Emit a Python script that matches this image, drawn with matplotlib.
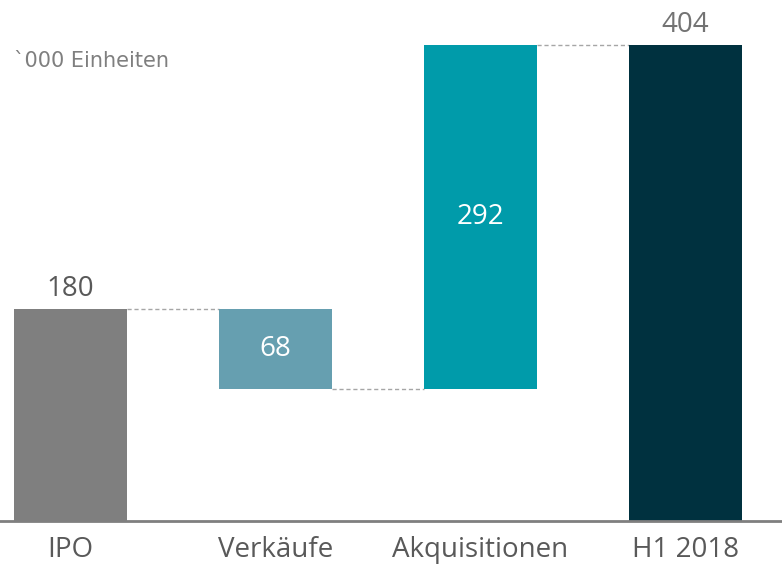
import matplotlib
matplotlib.use("Agg")
import matplotlib.pyplot as plt

categories = ["IPO", "Verkäufe", "Akquisitionen", "H1 2018"]
changes = [180, -68, 292, 404]
kinds = ["total", "delta", "delta", "total"]
colors = ["#7f7f7f", "#669fb0", "#009baa", "#00313f"]
unit_label = "`000 Einheiten"

# waterfall: work out bottom/top of every bar
bottoms, tops = [], []
level = 0
for val, kind in zip(changes, kinds):
    if kind == "total":
        bottoms.append(0)
        tops.append(val)
        level = val
    else:
        new = level + val
        bottoms.append(min(level, new))
        tops.append(max(level, new))
        level = new

fig = plt.figure(figsize=(7.82, 5.66), dpi=100)
ax = fig.add_axes([0, 0.0795, 1, 0.9205])
width = 0.55
x = list(range(len(categories)))
heights = [t - b for t, b in zip(tops, bottoms)]
ax.bar(x, heights, bottom=bottoms, width=width, color=colors, zorder=2)

# dashed connectors between neighbouring bars
level = 0
for i, (val, kind) in enumerate(zip(changes, kinds)):
    level = val if kind == "total" else level + val
    if i < len(categories) - 1:
        ax.plot([i + width / 2, i + 1 - width / 2], [level, level],
                color="#a6a6a6", lw=1, ls=(0, (3, 2)), zorder=1)

for i, (val, kind) in enumerate(zip(changes, kinds)):
    txt = str(abs(val))
    if kind == "total":
        col = "#595959" if i == 0 else "#737373"
        ax.text(i, tops[i] + 5, txt, ha="center", va="bottom",
                fontsize=20, color=col, family="Open Sans")
    else:
        ax.text(i, (tops[i] + bottoms[i]) / 2, txt, ha="center", va="center",
                fontsize=20, color="white", family="Open Sans")

ax.set_xlim(-0.344, 3.471)
ax.set_ylim(0, 442)
ax.set_yticks([])
ax.set_xticks(x)
ax.set_xticklabels(categories, fontsize=20, color="#595959", family="Open Sans")
ax.tick_params(axis="x", length=0, pad=11)
for side in ["top", "right", "left"]:
    ax.spines[side].set_visible(False)
ax.spines["bottom"].set_color("#7f7f7f")
ax.spines["bottom"].set_linewidth(2)

fig.text(14 / 782, 1 - 61 / 566, unit_label, ha="left", va="center",
         fontsize=15, color="#7f7f7f", family="DejaVu Sans")

fig.savefig("out.png", dpi=100)
